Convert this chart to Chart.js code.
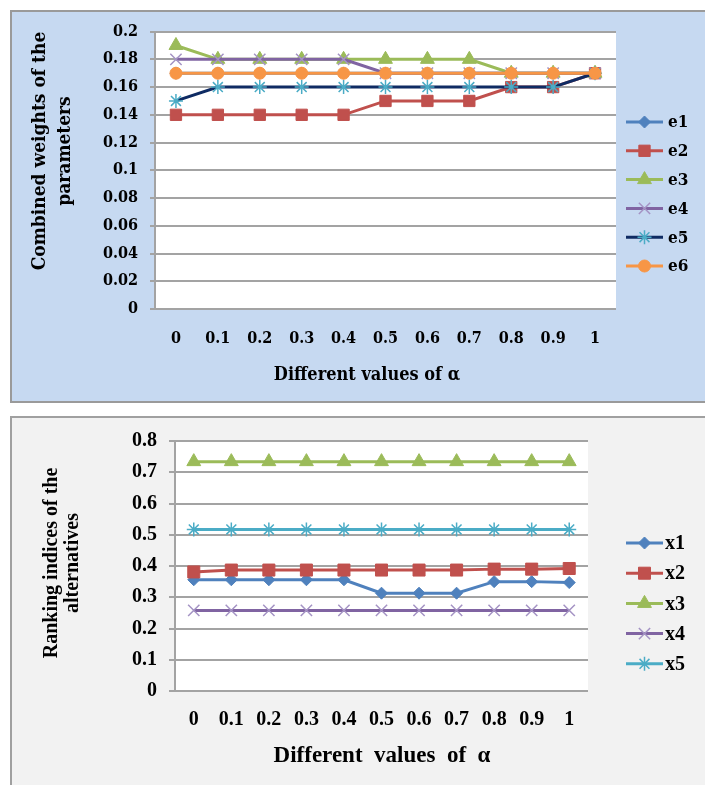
<!DOCTYPE html>
<html>
<head>
<title>Combined weights and ranking indices</title>
<meta charset="UTF-8">
<script src="https://cdn.jsdelivr.net/npm/chart.js@4.4.1/dist/chart.umd.min.js"></script>
<style>
 body{margin:0;background:#ffffff;width:705px;height:785px;overflow:hidden;position:relative}
 .panel{position:absolute;box-sizing:border-box}
 #top_panel{left:10px;top:10px;width:720px;height:393px;background:#c6d9f1;border:2px solid #9a9a9a}
 #bottom_panel{left:10px;top:416px;width:720px;height:400px;background:#f2f2f2;border:2px solid #a0a0a0}
 .holder{position:absolute}
 #top_holder{left:10px;top:10px;width:695px;height:392px}
 #bottom_holder{left:10px;top:417px;width:695px;height:368px}
</style>
</head>
<body>

<div class="panel" id="top_panel"></div>
<div class="panel" id="bottom_panel"></div>

<div class="holder" id="top_holder"><canvas id="weights" width="695" height="392"></canvas></div>
<div class="holder" id="bottom_holder"><canvas id="ranking" width="695" height="368"></canvas></div>

<script>
////////////////////// data //////////////////////
var alphaLabels = ['0','0.1','0.2','0.3','0.4','0.5','0.6','0.7','0.8','0.9','1'];

// top chart: combined weights
var weightTicks = ['0','0.02','0.04','0.06','0.08','0.1','0.12','0.14','0.16','0.18','0.2'];
var weightNames = ['e1','e2','e3','e4','e5','e6'];
var e1 = [0.17,0.17,0.17,0.17,0.17,0.17,0.17,0.17,0.17,0.17,0.17];
var e2 = [0.14,0.14,0.14,0.14,0.14,0.15,0.15,0.15,0.16,0.16,0.17];
var e3 = [0.19,0.18,0.18,0.18,0.18,0.18,0.18,0.18,0.17,0.17,0.17];
var e4 = [0.18,0.18,0.18,0.18,0.18,0.17,0.17,0.17,0.17,0.17,0.17];
var e5 = [0.15,0.16,0.16,0.16,0.16,0.16,0.16,0.16,0.16,0.16,0.17];
var e6 = [0.17,0.17,0.17,0.17,0.17,0.17,0.17,0.17,0.17,0.17,0.17];

// bottom chart: ranking indices
var rankTicks = ['0','0.1','0.2','0.3','0.4','0.5','0.6','0.7','0.8'];
var rankNames = ['x1','x2','x3','x4','x5'];
var x1 = [0.356,0.356,0.356,0.356,0.356,0.313,0.313,0.313,0.350,0.350,0.347];
var x2 = [0.381,0.387,0.387,0.387,0.387,0.387,0.387,0.387,0.390,0.390,0.392];
var x3 = [0.734,0.734,0.734,0.734,0.734,0.734,0.734,0.734,0.734,0.734,0.734];
var x4 = [0.258,0.258,0.258,0.258,0.258,0.258,0.258,0.258,0.258,0.258,0.258];
var x5 = [0.517,0.517,0.517,0.517,0.517,0.517,0.517,0.517,0.517,0.517,0.517];

////////////////////// styles //////////////////////
var cambria = '"DejaVu Serif Condensed", "DejaVu Serif", serif';
var times = '"Liberation Serif", "Times New Roman", serif';
var gridGrey = '#a3a3a3';

var weightStyles = [
  {line:'#4f81bd', fill:'#4f81bd', mark:'#4f81bd', shape:'rectRot', r:6, bw:1},
  {line:'#c0504d', fill:'#c0504d', mark:'#c0504d', shape:'rect', r:8, bw:1},
  {line:'#9bbb59', fill:'#9bbb59', mark:'#9bbb59', shape:'triangle', r:8, bw:1},
  {line:'#8064a2', fill:'rgba(0,0,0,0)', mark:'#a493c4', shape:'crossRot', r:8, bw:1.5},
  {line:'#0f2b63', fill:'rgba(0,0,0,0)', mark:'#4bacc6', shape:'star', r:7, bw:1.5},
  {line:'#f79646', fill:'#f79646', mark:'#f79646', shape:'circle', r:6, bw:1}
];
var rankStyles = [
  {line:'#4f81bd', fill:'#4f81bd', mark:'#4f81bd', shape:'rectRot', r:6, bw:1},
  {line:'#c0504d', fill:'#c0504d', mark:'#c0504d', shape:'rect', r:8.5, bw:1},
  {line:'#9bbb59', fill:'#9bbb59', mark:'#9bbb59', shape:'triangle', r:8, bw:1},
  {line:'#8064a2', fill:'rgba(0,0,0,0)', mark:'#a493c4', shape:'crossRot', r:8, bw:1.5},
  {line:'#4bacc6', fill:'rgba(0,0,0,0)', mark:'#4bacc6', shape:'star', r:7, bw:1.5}
];

function makeSets(names, series, styles){
  var sets = [];
  for (var i = 0; i < names.length; i++){
    var st = styles[i];
    sets.push({
      label: names[i],
      data: series[i],
      order: names.length - i,   // later series painted on top, like excel
      borderColor: st.line,
      backgroundColor: st.fill,
      borderWidth: 3,
      tension: 0,
      pointStyle: st.shape,
      pointRadius: st.r,
      pointHoverRadius: st.r,
      pointBackgroundColor: st.fill,
      pointBorderColor: st.mark,
      pointBorderWidth: st.bw
    });
  }
  return sets;
}

// white plot area + axis titles + legend with line and marker
var sketchPlugin = {
  id: 'sketch',
  beforeDraw: function(chart){
    var a = chart.chartArea, ctx = chart.ctx;
    ctx.save();
    ctx.fillStyle = '#ffffff';
    ctx.fillRect(a.left, a.top, a.right - a.left, a.bottom - a.top);
    ctx.restore();
  },
  afterDraw: function(chart, args, o){
    var ctx = chart.ctx;
    ctx.save();
    ctx.fillStyle = '#000000';
    ctx.textAlign = 'center';
    ctx.textBaseline = 'middle';
    ctx.font = o.xTitleFont;
    ctx.fillText(o.xTitle, o.xTitleX, o.xTitleY);

    ctx.font = o.yTitleFont;
    for (var i = 0; i < o.yTitle.length; i++){
      ctx.save();
      ctx.translate(o.yTitleX[i], o.yTitleY);
      ctx.rotate(-Math.PI / 2);
      ctx.fillText(o.yTitle[i], 0, 0);
      ctx.restore();
    }

    var sets = chart.data.datasets;
    for (var j = 0; j < sets.length; j++){
      var ds = sets[j];
      var y = o.legendY + j * o.legendGap;
      ctx.strokeStyle = ds.borderColor;
      ctx.lineWidth = 3;
      ctx.beginPath();
      ctx.moveTo(o.legendX, y);
      ctx.lineTo(o.legendX + o.legendLen, y);
      ctx.stroke();
      ctx.fillStyle = ds.pointBackgroundColor;
      ctx.strokeStyle = ds.pointBorderColor;
      ctx.lineWidth = ds.pointBorderWidth;
      Chart.helpers.drawPoint(ctx, {pointStyle: ds.pointStyle, radius: ds.pointRadius, rotation: 0, borderWidth: ds.pointBorderWidth}, o.legendX + o.legendLen / 2, y);
      ctx.fillStyle = '#000000';
      ctx.font = o.legendFont;
      ctx.textAlign = 'left';
      ctx.fillText(ds.label, o.legendTextX, y + 1);
    }
    ctx.restore();
  }
};

function makeChart(id, cfg){
  return new Chart(document.getElementById(id).getContext('2d'), {
    type: 'line',
    data: {labels: alphaLabels, datasets: cfg.sets},
    plugins: [sketchPlugin],
    options: {
      responsive: false,
      animation: false,
      layout: {padding: cfg.padding},
      plugins: {
        legend: {display: false},
        tooltip: {enabled: false},
        sketch: cfg.deco
      },
      scales: {
        x: {
          type: 'category',
          offset: true,
          grid: {display: false, drawTicks: false},
          border: {display: false},
          ticks: {color: '#000', font: cfg.tickFont, padding: cfg.xPad, maxRotation: 0, autoSkip: false},
          afterFit: function(s){ s.height = cfg.xHeight; }
        },
        y: {
          min: 0, max: cfg.max,
          grid: {color: gridGrey, lineWidth: 2, tickLength: cfg.tickLen, tickColor: gridGrey},
          border: {display: true, color: gridGrey, width: 2},
          ticks: {
            stepSize: cfg.step, color: '#000', font: cfg.tickFont, padding: cfg.yPad,
            callback: function(v, i){ return cfg.tickText[i]; }
          },
          afterFit: function(s){ s.width = cfg.yWidth; }
        }
      }
    }
  });
}

var weightChart = makeChart('weights', {
  sets: makeSets(weightNames, [e1, e2, e3, e4, e5, e6], weightStyles),
  padding: {left: 0, top: 21, right: 89, bottom: 0},
  max: 0.2, step: 0.02, tickText: weightTicks,
  tickFont: {family: cambria, size: 16, weight: 'bold'},
  xPad: 20, yPad: 12, tickLen: 5, xHeight: 93, yWidth: 145,
  deco: {
    xTitle: 'Different values of \u03b1', xTitleX: 357, xTitleY: 365,
    xTitleFont: 'bold 18px ' + cambria,
    yTitle: ['Combined weights of the', 'parameters'], yTitleX: [30, 55], yTitleY: 141,
    yTitleFont: 'bold 19px ' + cambria,
    legendX: 616, legendLen: 37, legendTextX: 658, legendY: 112, legendGap: 28.8,
    legendFont: 'bold 17px ' + cambria
  }
});

var rankChart = makeChart('ranking', {
  sets: makeSets(rankNames, [x1, x2, x3, x4, x5], rankStyles),
  padding: {left: 0, top: 18, right: 117, bottom: 0},
  max: 0.8, step: 0.1, tickText: rankTicks,
  tickFont: {family: times, size: 20, weight: 'bold'},
  xPad: 17, yPad: 12, tickLen: 6, xHeight: 94, yWidth: 165,
  deco: {
    xTitle: 'Different  values  of  \u03b1', xTitleX: 372, xTitleY: 339,
    xTitleFont: 'bold 23px ' + times,
    yTitle: ['Ranking indices of the', 'alternatives'], yTitleX: [42, 63], yTitleY: 146,
    yTitleFont: 'bold 20px ' + times,
    legendX: 616, legendLen: 37, legendTextX: 655, legendY: 126, legendGap: 30.2,
    legendFont: 'bold 20px ' + times
  }
});
</script>

</body>
</html>
